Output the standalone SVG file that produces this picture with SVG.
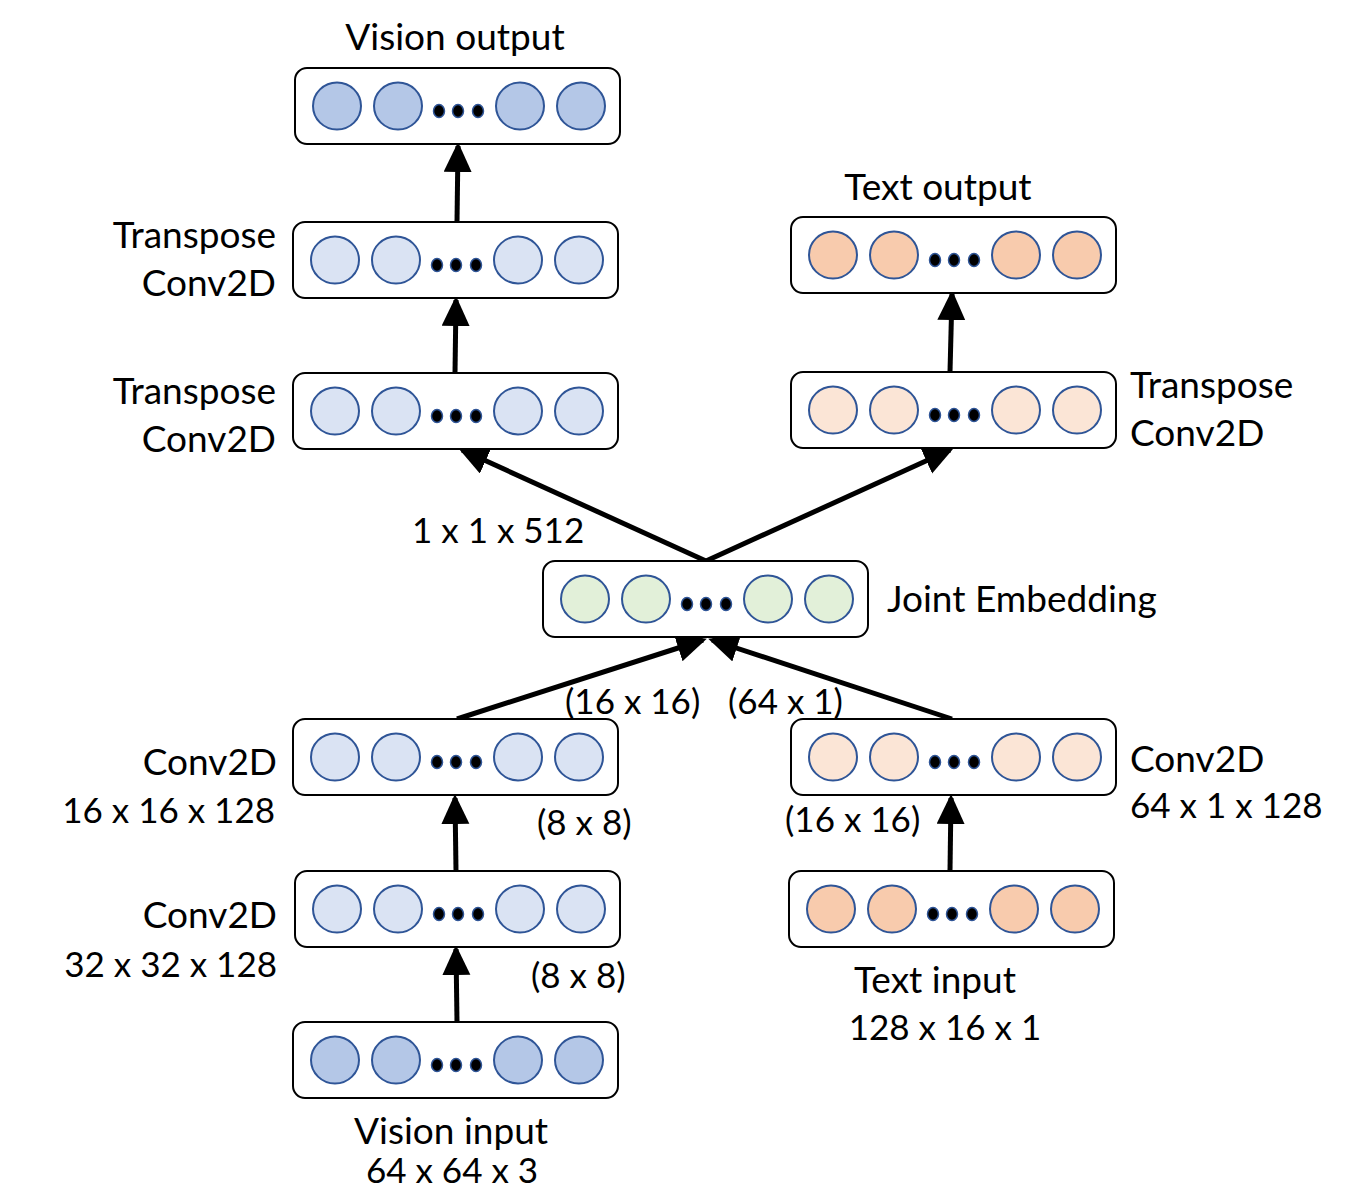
<svg xmlns="http://www.w3.org/2000/svg" width="1350" height="1190" viewBox="0 0 1350 1190">
<style>
.box{fill:#fff;stroke:#000;stroke-width:2}
.c{stroke:#2F5597;stroke-width:2}
.d{fill:#000;stroke:#2F5597;stroke-width:1.5}
.vd{fill:#B4C7E7}.vl{fill:#DAE3F3}.od{fill:#F8CBAD}.ol{fill:#FBE5D6}.g{fill:#E2F0D9}
text{font-family:Lato,"Liberation Sans",sans-serif;font-size:37px;fill:#000}
.n{font-size:35px}
.r{text-anchor:end}
.conn line{stroke:#000;stroke-width:5}
</style>
<defs>
<marker id="ah" markerUnits="userSpaceOnUse" markerWidth="32" markerHeight="30" refX="26" refY="14" orient="auto">
<path d="M0,0 L30,14 L0,28 Z" fill="#000"/>
</marker>
<g id="row">
<rect class="box" x="0" y="0" width="325" height="76" rx="12"/>
<ellipse class="c" cx="42" cy="38" rx="24" ry="23.5"/>
<ellipse class="c" cx="103" cy="38" rx="24" ry="23.5"/>
<ellipse class="c" cx="225" cy="38" rx="24" ry="23.5"/>
<ellipse class="c" cx="286" cy="38" rx="24" ry="23.5"/>
<ellipse class="d" cx="144" cy="43" rx="5.5" ry="6.5"/>
<ellipse class="d" cx="163" cy="43" rx="5.5" ry="6.5"/>
<ellipse class="d" cx="183" cy="43" rx="5.5" ry="6.5"/>
</g>
</defs>
<g class="conn">
<line x1="457" y1="1022" x2="456" y2="949" marker-end="url(#ah)"/>
<line x1="456" y1="871" x2="455" y2="798" marker-end="url(#ah)"/>
<line x1="457" y1="719" x2="703" y2="640" marker-end="url(#ah)"/>
<line x1="952" y1="719" x2="712" y2="640" marker-end="url(#ah)"/>
<line x1="706" y1="561" x2="462" y2="450" marker-end="url(#ah)"/>
<line x1="706" y1="561" x2="950" y2="450" marker-end="url(#ah)"/>
<line x1="455" y1="373" x2="456" y2="300" marker-end="url(#ah)"/>
<line x1="457" y1="222" x2="458" y2="146" marker-end="url(#ah)"/>
<line x1="950" y1="871" x2="951" y2="798" marker-end="url(#ah)"/>
<line x1="950" y1="372" x2="952" y2="294" marker-end="url(#ah)"/>
</g>
<g id="vision_output" class="vd" transform="translate(295,68)"><use href="#row"/></g>
<g id="tconv_left_top" class="vl" transform="translate(293,222)"><use href="#row"/></g>
<g id="tconv_left" class="vl" transform="translate(293,373)"><use href="#row"/></g>
<g id="text_output" class="od" transform="translate(791,217)"><use href="#row"/></g>
<g id="tconv_right" class="ol" transform="translate(791,372)"><use href="#row"/></g>
<g id="joint" class="g" transform="translate(543,561)"><use href="#row"/></g>
<g id="conv_left_top" class="vl" transform="translate(293,719)"><use href="#row"/></g>
<g id="conv_right" class="ol" transform="translate(791,719)"><use href="#row"/></g>
<g id="conv_left" class="vl" transform="translate(295,871)"><use href="#row"/></g>
<g id="text_input" class="od" transform="translate(789,871)"><use href="#row"/></g>
<g id="vision_input" class="vd" transform="translate(293,1022)"><use href="#row"/></g>
<g id="labels">
<text x="455" y="50" text-anchor="middle">Vision output</text>
<text class="r" x="276" y="248">Transpose</text>
<text class="r" x="276" y="296">Conv2D</text>
<text class="r" x="276" y="404">Transpose</text>
<text class="r" x="276" y="452">Conv2D</text>
<text x="938" y="200" text-anchor="middle">Text output</text>
<text x="1130" y="398">Transpose</text>
<text x="1130" y="446">Conv2D</text>
<text class="n" x="412" y="543">1 x 1 x 512</text>
<text x="887" y="612">Joint Embedding</text>
<text class="n" x="565" y="714">(16 x 16)</text>
<text class="n" x="728" y="714">(64 x 1)</text>
<text class="r" x="277" y="775">Conv2D</text>
<text class="r n" x="275" y="823">16 x 16 x 128</text>
<text class="n" x="537" y="835">(8 x 8)</text>
<text class="n" x="785" y="832">(16 x 16)</text>
<text x="1130" y="772">Conv2D</text>
<text class="n" x="1130" y="818">64 x 1 x 128</text>
<text class="r" x="277" y="928">Conv2D</text>
<text class="r n" x="277" y="977">32 x 32 x 128</text>
<text class="n" x="531" y="988">(8 x 8)</text>
<text x="935" y="993" text-anchor="middle">Text input</text>
<text class="n" x="945" y="1040" text-anchor="middle">128 x 16 x 1</text>
<text x="451" y="1144" text-anchor="middle">Vision input</text>
<text class="n" x="452" y="1183" text-anchor="middle">64 x 64 x 3</text>
</g>
</svg>
